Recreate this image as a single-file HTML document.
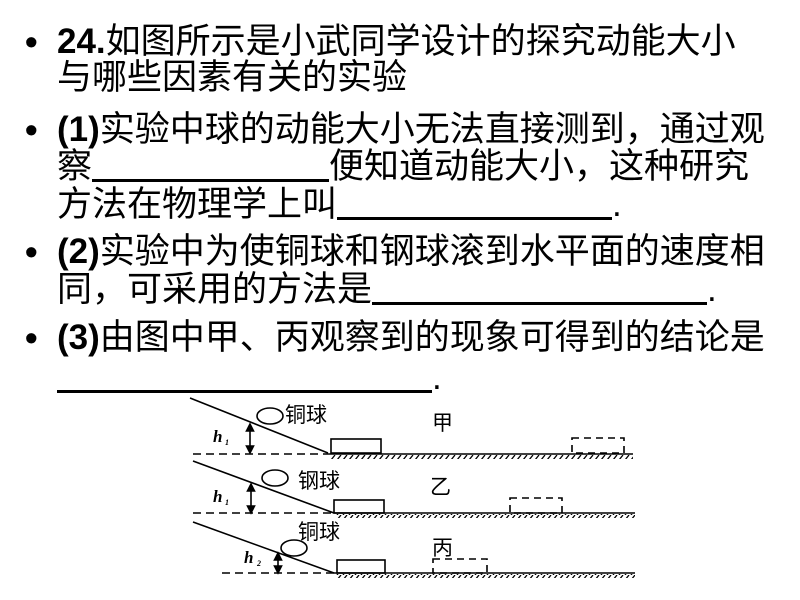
<!DOCTYPE html>
<html><head><meta charset="utf-8"><style>
body{margin:0;background:#fff;}
#p{position:relative;width:800px;height:600px;overflow:hidden;font-family:"Liberation Sans","Noto Sans CJK SC",sans-serif;font-size:35px;color:#000;}
.l{position:absolute;left:57px;white-space:nowrap;line-height:40px;}
.b{position:absolute;left:25px;font-size:36px;font-weight:bold;line-height:40px;}
b{font-weight:bold;}
.u{display:inline-block;border-bottom:3px solid #000;height:30px;vertical-align:-4px;}
</style></head><body><div id="p">
<div class="b" style="top:22px">•</div>
<div class="l" style="top:22px"><b>24.</b>如图所示是小武同学设计的探究动能大小</div>
<div class="l" style="top:58px">与哪些因素有关的实验</div>
<div class="b" style="top:110px">•</div>
<div class="l" style="top:110px"><b>(1)</b>实验中球的动能大小无法直接测到，通过观</div>
<div class="l" style="top:147px">察<span class="u" style="width:237px"></span>便知道动能大小，这种研究</div>
<div class="l" style="top:185px">方法在物理学上叫<span class="u" style="width:275px"></span>.</div>
<div class="b" style="top:232px">•</div>
<div class="l" style="top:232px"><b>(2)</b>实验中为使铜球和钢球滚到水平面的速度相</div>
<div class="l" style="top:270px">同，可采用的方法是<span class="u" style="width:335px"></span>.</div>
<div class="b" style="top:318px">•</div>
<div class="l" style="top:318px"><b>(3)</b>由图中甲、丙观察到的现象可得到的结论是</div>
<div class="l" style="top:358px"><span class="u" style="width:375px"></span>.</div>
<svg width="800" height="600" style="position:absolute;left:0;top:0" font-family="Liberation Sans,Noto Sans CJK SC,sans-serif">
<defs>
<pattern id="h" width="6" height="5" patternUnits="userSpaceOnUse"><line x1="5" y1="0" x2="1" y2="5" stroke="#000" stroke-width="1.3"/></pattern>
<marker id="a" markerWidth="6" markerHeight="6" refX="3" refY="3" orient="auto-start-reverse"><path d="M0,0L6,3L0,6z"/></marker>
</defs>
<g stroke="#000" stroke-width="1.6" fill="none">
<line x1="190" y1="398" x2="328" y2="453"/>
<line x1="193" y1="454" x2="328" y2="454" stroke-dasharray="8,5"/>
<line x1="328" y1="454" x2="633" y2="454"/>
<rect x="331" y="439" width="50" height="14"/>
<rect x="572" y="438" width="52" height="15" stroke-dasharray="7,5"/>
<ellipse cx="270" cy="416" rx="13" ry="8"/>
<line x1="250" y1="427" x2="250" y2="450" marker-start="url(#a)" marker-end="url(#a)"/>
<line x1="193" y1="461" x2="334" y2="513"/>
<line x1="193" y1="513" x2="334" y2="513" stroke-dasharray="8,5"/>
<line x1="334" y1="513" x2="635" y2="513"/>
<rect x="334" y="500" width="50" height="13"/>
<rect x="510" y="498" width="52" height="15" stroke-dasharray="7,5"/>
<ellipse cx="275" cy="478" rx="13" ry="8"/>
<line x1="251" y1="487" x2="251" y2="510" marker-start="url(#a)" marker-end="url(#a)"/>
<line x1="193" y1="522" x2="334" y2="573"/>
<line x1="222" y1="573" x2="334" y2="573" stroke-dasharray="8,5"/>
<line x1="334" y1="573" x2="635" y2="573"/>
<rect x="337" y="560" width="48" height="13"/>
<rect x="433" y="559" width="54" height="14" stroke-dasharray="7,5"/>
<ellipse cx="294" cy="548" rx="13" ry="8"/>
<line x1="278" y1="556" x2="278" y2="570" marker-start="url(#a)" marker-end="url(#a)"/>
</g>
<rect x="330" y="455" width="303" height="4" fill="url(#h)"/>
<rect x="336" y="514" width="299" height="4" fill="url(#h)"/>
<rect x="336" y="574" width="299" height="4" fill="url(#h)"/>
<g font-size="21">
<text x="285" y="422">铜球</text>
<text x="432" y="430">甲</text>
<text x="298" y="488">钢球</text>
<text x="430" y="494">乙</text>
<text x="298" y="539">铜球</text>
<text x="432" y="555">丙</text>
</g>
<g font-size="17" font-style="italic" font-weight="bold" font-family="Liberation Serif,serif">
<text x="213" y="442">h</text><text x="225" y="445" font-size="8">1</text>
<text x="213" y="502">h</text><text x="225" y="505" font-size="8">1</text>
<text x="244" y="563">h</text><text x="257" y="566" font-size="8">2</text>
</g>
</svg>
</div></body></html>
